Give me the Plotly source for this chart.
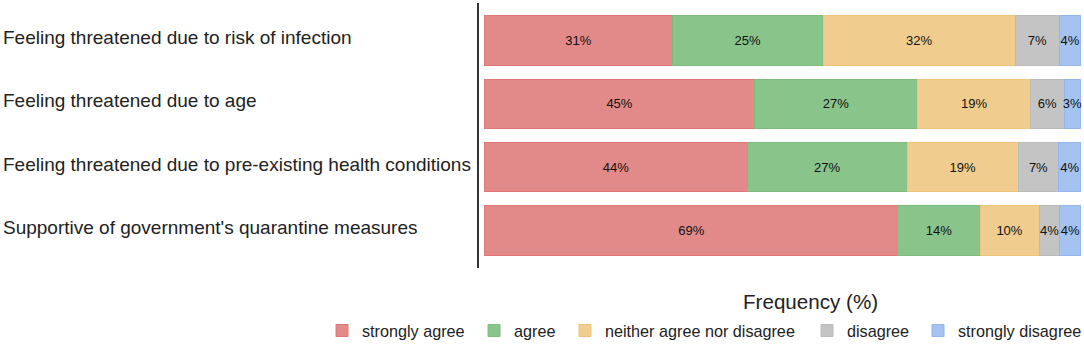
import plotly.graph_objects as go

categories = [
    "Feeling threatened due to risk of infection",
    "Feeling threatened due to age",
    "Feeling threatened due to pre-existing health conditions",
    "Supportive of government's quarantine measures",
]
responses = ["strongly agree", "agree", "neither agree nor disagree", "disagree", "strongly disagree"]

# percentages per response level (rows follow categories)
strongly_agree = [31.4, 45.2, 44.0, 69.3]
agree = [25.4, 27.4, 26.9, 13.8]
neither = [32.2, 19.0, 18.6, 9.9]
disagree = [7.4, 5.6, 6.8, 3.5]
strongly_disagree = [3.6, 2.8, 3.7, 3.5]

# printed labels
labels_strongly_agree = ["31%", "45%", "44%", "69%"]
labels_agree = ["25%", "27%", "27%", "14%"]
labels_neither = ["32%", "19%", "19%", "10%"]
labels_disagree = ["7%", "6%", "7%", "4%"]
labels_strongly_disagree = ["4%", "3%", "4%", "4%"]

series = [strongly_agree, agree, neither, disagree, strongly_disagree]
series_labels = [labels_strongly_agree, labels_agree, labels_neither, labels_disagree, labels_strongly_disagree]
fills = ["#E28A89", "#89C48B", "#F0CD8E", "#C4C4C4", "#A5C3F0"]
edges = ["#E07676", "#7CBD7E", "#EEC47A", "#BBBBBB", "#93B6EE"]
legend_widths = [107, 46, 197, 66, 120]

FONT = "Liberation Sans, Arial, sans-serif"
W, H = 1084, 346

fig = go.Figure()
for name, vals, txt, fc, ec, lw in zip(responses, series, series_labels, fills, edges, legend_widths):
    fig.add_trace(go.Bar(
        name=name, y=categories, x=vals, orientation="h",
        text=txt, textposition="inside", insidetextanchor="middle",
        textangle=0, constraintext="none",
        textfont=dict(family=FONT, size=13, color="#111111"),
        marker=dict(color=fc, line=dict(color=ec, width=1)),
        legendwidth=lw,
        hoverinfo="skip",
    ))

for c in categories:
    fig.add_annotation(
        x=-478 / 603, xref="paper", y=c, yref="y", yshift=3,
        text=c, showarrow=False, xanchor="left", yanchor="middle",
        font=dict(family=FONT, size=19, color="#222222"),
    )

fig.add_annotation(
    x=(810 - 479) / 603, xref="paper", y=-(301 - 268) / 265, yref="paper",
    text="Frequency (%)", showarrow=False, xanchor="center", yanchor="middle",
    font=dict(family=FONT, size=20.6, color="#222222"),
)

fig.update_layout(
    width=W, height=H,
    margin=dict(l=479, r=2, t=3, b=78, autoexpand=False),
    barmode="stack", bargap=0.21,
    plot_bgcolor="white", paper_bgcolor="white",
    font=dict(family=FONT, color="#222222"),
    xaxis=dict(range=[-1, 100.2], showgrid=False, zeroline=False,
               showticklabels=False, ticks="", showline=False, fixedrange=True),
    yaxis=dict(categoryorder="array", categoryarray=categories,
               autorange=False, range=[3.6, -0.6],
               showgrid=False, zeroline=False, showticklabels=False, ticks="",
               showline=True, linecolor="#333333", linewidth=2, fixedrange=True),
    legend=dict(orientation="h", xref="paper", x=(322 - 479) / 603, xanchor="left",
                yref="paper", y=-(331 - 268) / 265, yanchor="middle",
                font=dict(family=FONT, size=16.2, color="#222222"),
                traceorder="normal", bgcolor="rgba(0,0,0,0)"),
    showlegend=True,
)

fig.write_html("out.html", config={"displayModeBar": False},
               post_script="document.body.style.margin='0';")
